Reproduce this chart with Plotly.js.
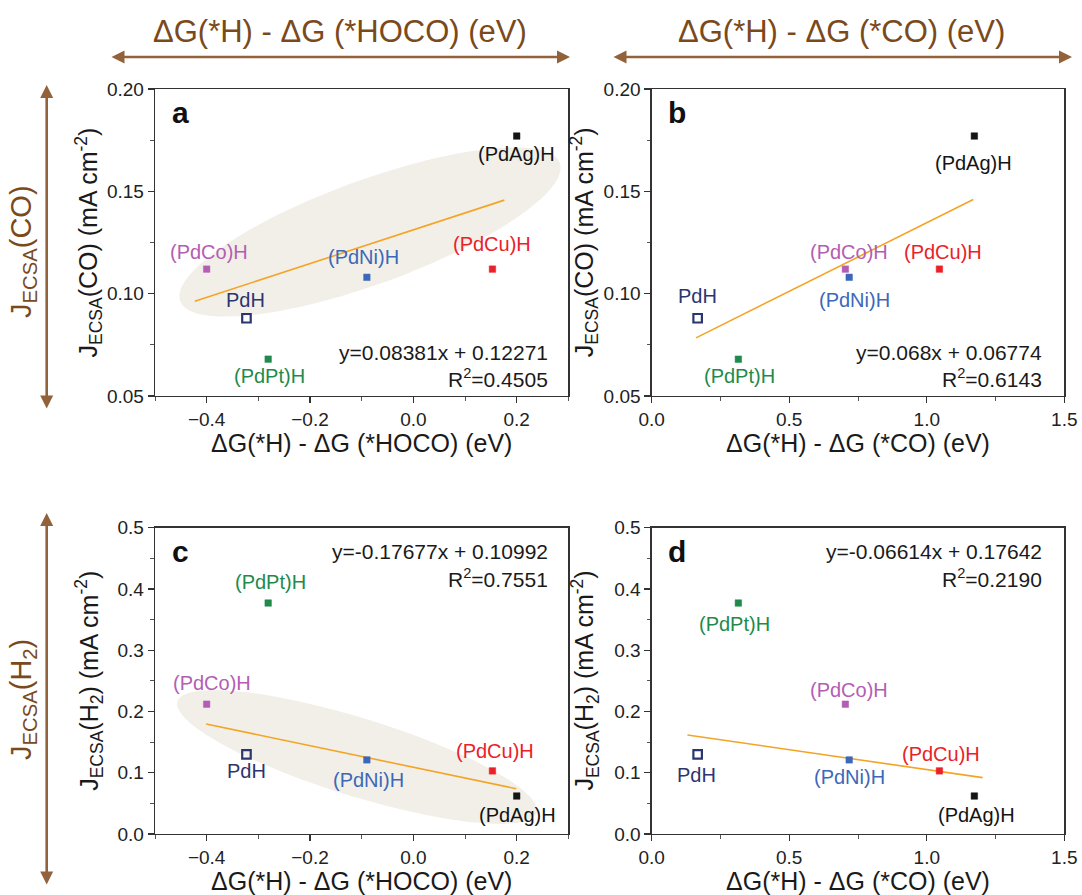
<!DOCTYPE html>
<html><head><meta charset="utf-8">
<script src="https://cdn.plot.ly/plotly-3.0.1.min.js"></script>
<style>html,body{margin:0;padding:0;background:#fff}#chart{width:1082px;height:895px}</style>
</head><body><div id="chart"></div>
<script>
// ---------------- data ----------------
const compounds = ['PdH', '(PdCo)H', '(PdPt)H', '(PdNi)H', '(PdCu)H', '(PdAg)H'];
const dG_HOCO = [-0.323, -0.400, -0.281, -0.090, 0.153, 0.200];   // ΔG(*H) - ΔG(*HOCO)
const dG_CO   = [0.167, 0.704, 0.315, 0.718, 1.046, 1.173];       // ΔG(*H) - ΔG(*CO)
const J_CO    = [0.088, 0.112, 0.068, 0.108, 0.112, 0.177];       // J_ECSA(CO)
const J_H2    = [0.130, 0.212, 0.377, 0.121, 0.103, 0.062];       // J_ECSA(H2)

const fitA_x = [-0.423, 0.176], fitA_y = [0.0963, 0.1457];
const fitB_x = [0.161, 1.169],  fitB_y = [0.0784, 0.1460];
const fitC_x = [-0.401, 0.199], fitC_y = [0.1795, 0.0740];
const fitD_x = [0.130, 1.203],  fitD_y = [0.1616, 0.0920];

const eqA = ['y=0.08381x + 0.12271', 'R<sup>2</sup>=0.4505'];
const eqB = ['y=0.068x + 0.06774', 'R<sup>2</sup>=0.6143'];
const eqC = ['y=-0.17677x + 0.10992', 'R<sup>2</sup>=0.7551'];
const eqD = ['y=-0.06614x + 0.17642', 'R<sup>2</sup>=0.2190'];

const titleHOCO = 'ΔG(*H) - ΔG (*HOCO) (eV)';
const titleCO = 'ΔG(*H) - ΔG (*CO) (eV)';
const titleJCO = 'J<sub>ECSA</sub>(CO) (mA cm<sup>-2</sup>)';
const titleJH2 = 'J<sub>ECSA</sub>(H<sub>2</sub>) (mA cm<sup>-2</sup>)';
const sideJCO = 'J<sub>ECSA</sub>(CO)';
const sideJH2 = 'J<sub>ECSA</sub>(H<sub>2</sub>)';

// ---------------- styles ----------------
const W = 1082, H = 895;
const FONT = '"Liberation Sans", Arial, Helvetica, sans-serif';
const BROWN_TXT = '#7a4a1c', BROWN_ARW = '#92623a';
const colors = {
  'PdH': '#2b3570', '(PdCo)H': '#b35eb4', '(PdPt)H': '#1f8a4c',
  '(PdNi)H': '#3c68b9', '(PdCu)H': '#ea2228', '(PdAg)H': '#141414'
};
// label offsets in pixels [dx, dy (down positive)]
const offsets = {
  a: {'PdH': [-1, -18], '(PdCo)H': [2, -17], '(PdPt)H': [1, 17], '(PdNi)H': [-3, -20], '(PdCu)H': [0, -25], '(PdAg)H': [0, 18]},
  b: {'PdH': [0, -22], '(PdCo)H': [4, -17], '(PdPt)H': [1, 17], '(PdNi)H': [5, 23], '(PdCu)H': [4, -17], '(PdAg)H': [-1, 27]},
  c: {'PdH': [0, 17], '(PdCo)H': [5, -21], '(PdPt)H': [2, -21], '(PdNi)H': [2, 20], '(PdCu)H': [3, -20], '(PdAg)H': [1, 19]},
  d: {'PdH': [-1, 21], '(PdCo)H': [4, -14], '(PdPt)H': [-4, 21], '(PdNi)H': [0, 17], '(PdCu)H': [2, -17], '(PdAg)H': [2, 19]}
};
// plot areas in pixels
const boxes = {
  a: {x0: 155, x1: 568.4, y0: 89, y1: 396},
  b: {x0: 651.7, x1: 1064.3, y0: 89, y1: 396},
  c: {x0: 155, x1: 568.4, y0: 527.7, y1: 834},
  d: {x0: 651.7, x1: 1064.3, y0: 527.7, y1: 834}
};
const px = x => x / W, py = y => 1 - y / H;

// ---------------- traces ----------------
const panels = [
  {k: 'a', xs: dG_HOCO, ys: J_CO, fx: fitA_x, fy: fitA_y, eq: eqA, xa: 'x', ya: 'y'},
  {k: 'b', xs: dG_CO, ys: J_CO, fx: fitB_x, fy: fitB_y, eq: eqB, xa: 'x2', ya: 'y2'},
  {k: 'c', xs: dG_HOCO, ys: J_H2, fx: fitC_x, fy: fitC_y, eq: eqC, xa: 'x3', ya: 'y3'},
  {k: 'd', xs: dG_CO, ys: J_H2, fx: fitD_x, fy: fitD_y, eq: eqD, xa: 'x4', ya: 'y4'}
];
const traces = [];
const annotations = [];
panels.forEach(p => {
  traces.push({
    x: p.fx, y: p.fy, xaxis: p.xa, yaxis: p.ya, mode: 'lines', type: 'scatter',
    line: {color: '#f4a425', width: 1.6}, hoverinfo: 'skip', showlegend: false
  });
  traces.push({
    x: p.xs, y: p.ys, xaxis: p.xa, yaxis: p.ya, mode: 'markers', type: 'scatter',
    text: compounds, showlegend: false,
    marker: {
      opacity: 1,
      symbol: compounds.map(c => c === 'PdH' ? 'square-open' : 'square'),
      size: compounds.map(c => c === 'PdH' ? 8.5 : 6.5),
      color: compounds.map(c => colors[c]),
      line: {width: compounds.map(c => c === 'PdH' ? 2.2 : 0.5), color: compounds.map(c => colors[c])}
    }
  });
  compounds.forEach((c, i) => {
    const o = offsets[p.k][c];
    annotations.push({
      x: p.xs[i], y: p.ys[i], xref: p.xa, yref: p.ya, text: c, showarrow: false,
      xshift: o[0], yshift: -o[1], font: {family: FONT, size: 20, color: colors[c]},
      xanchor: 'center', yanchor: 'middle'
    });
  });
  const b = boxes[p.k];
  const top = (p.k === 'a' || p.k === 'b');
  const left = (p.k === 'a' || p.k === 'c');
  // equations
  const eqY = top ? [352.7, 377.5] : [551.7, 577.7];
  const eqX = left ? 550.5 : 1043.5;
  p.eq.forEach((t, j) => annotations.push({
    x: px(eqX), y: py(eqY[j]), xref: 'paper', yref: 'paper', text: t, showarrow: false,
    xanchor: 'right', yanchor: 'middle', font: {family: FONT, size: 21, color: '#1a1a1a'}
  }));
  // panel letter
  annotations.push({
    x: px(b.x0 + 25.5), y: py(top ? 112.7 : 551), xref: 'paper', yref: 'paper',
    text: '<b>' + p.k + '</b>', showarrow: false, xanchor: 'center', yanchor: 'middle',
    font: {family: FONT, size: 30, color: '#111'}
  });
  // axis titles
  annotations.push({
    x: px((b.x0 + b.x1) / 2), y: py(b.y1 + 47), xref: 'paper', yref: 'paper',
    text: left ? titleHOCO : titleCO, showarrow: false,
    xanchor: 'center', yanchor: 'middle', font: {family: FONT, size: 25, color: '#1a1a1a'}
  });
  annotations.push({
    x: px(b.x0 - (left ? 66 : 67)), y: py((b.y0 + b.y1) / 2), xref: 'paper', yref: 'paper',
    text: top ? titleJCO : titleJH2, showarrow: false, textangle: -90,
    xanchor: 'center', yanchor: 'middle', font: {family: FONT, size: 25, color: '#1a1a1a'}
  });
});

// top brown headers and arrows
[[titleHOCO, 340, 110, 570], [titleCO, 841, 612, 1072]].forEach(([t, cx, xa, xb]) => {
  annotations.push({x: px(cx), y: py(31), xref: 'paper', yref: 'paper', text: t, showarrow: false,
    xanchor: 'center', yanchor: 'middle', font: {family: FONT, size: 31, color: BROWN_TXT}});
  annotations.push({x: px(xb), y: py(57), xref: 'paper', yref: 'paper', text: '', showarrow: true,
    ax: xa - xb, ay: 0, arrowside: 'end+start', arrowhead: 2, arrowsize: 1, arrowwidth: 2.6,
    arrowcolor: BROWN_ARW, standoff: 0, startstandoff: 0});
});
[[sideJCO, 252, 85, 410], [sideJH2, 700, 513, 886]].forEach(([t, cy, ya, yb]) => {
  annotations.push({x: px(23), y: py(cy), xref: 'paper', yref: 'paper', text: t, showarrow: false,
    textangle: -90, xanchor: 'center', yanchor: 'middle', font: {family: FONT, size: 29, color: BROWN_TXT}});
  annotations.push({x: px(46.7), y: py(ya), xref: 'paper', yref: 'paper', text: '', showarrow: true,
    ax: 0, ay: yb - ya, arrowside: 'end+start', arrowhead: 2, arrowsize: 1, arrowwidth: 2.6,
    arrowcolor: BROWN_ARW, standoff: 0, startstandoff: 0});
});

// highlight ellipses (decoration) in paper coordinates
function ellipsePath(cx, cy, a, b, angDeg) {
  const t = angDeg * Math.PI / 180, n = 90;
  let d = '';
  for (let i = 0; i <= n; i++) {
    const s = 2 * Math.PI * i / n;
    const ex = a * Math.cos(s), ey = b * Math.sin(s);
    const X = cx + ex * Math.cos(t) - ey * Math.sin(t);
    const Y = cy + ex * Math.sin(t) + ey * Math.cos(t);
    d += (i === 0 ? 'M' : 'L') + px(X).toFixed(5) + ',' + py(Y).toFixed(5);
  }
  return d + 'Z';
}
const shapes = [
  {type: 'path', xref: 'paper', yref: 'paper', path: ellipsePath(370, 232, 202, 52, -20), fillcolor: '#f2efe8', line: {width: 0}, layer: 'below'},
  {type: 'path', xref: 'paper', yref: 'paper', path: ellipsePath(357, 757, 188, 39, 17.2), fillcolor: '#f2efe8', line: {width: 0}, layer: 'below'}
];

// ---------------- axes ----------------
function ax(k, isX, range, dtick, minor, fmt, anchor) {
  const b = boxes[k];
  return {domain: isX ? [px(b.x0), px(b.x1)] : [py(b.y1), py(b.y0)], range: range, anchor: anchor,
    showgrid: false, zeroline: false, showline: true, mirror: true, linecolor: '#333', linewidth: 1.3,
    ticks: 'outside', ticklen: 6, tickwidth: 1.2, tickcolor: '#333', tickmode: 'linear', tick0: 0, dtick: dtick,
    tickformat: fmt, tickfont: {family: FONT, size: 19, color: '#222'},
    minor: {dtick: minor, tick0: 0, ticks: 'outside', ticklen: 3.5, tickwidth: 1, tickcolor: '#555', showgrid: false},
    fixedrange: true};
}

const layout = {
  width: W, height: H, margin: {l: 0, r: 0, t: 0, b: 0},
  paper_bgcolor: '#ffffff', plot_bgcolor: 'rgba(0,0,0,0)',
  font: {family: FONT, color: '#222'}, showlegend: false, hovermode: false,
  xaxis: ax('a', true, [-0.5, 0.3], 0.2, 0.1, '.1f', 'y'),
  yaxis: ax('a', false, [0.05, 0.20], 0.05, 0.025, '.2f', 'x'),
  xaxis2: ax('b', true, [0, 1.5], 0.5, 0.25, '.1f', 'y2'),
  yaxis2: ax('b', false, [0.05, 0.20], 0.05, 0.025, '.2f', 'x2'),
  xaxis3: ax('c', true, [-0.5, 0.3], 0.2, 0.1, '.1f', 'y3'),
  yaxis3: ax('c', false, [0, 0.5], 0.1, 0.05, '.1f', 'x3'),
  xaxis4: ax('d', true, [0, 1.5], 0.5, 0.25, '.1f', 'y4'),
  yaxis4: ax('d', false, [0, 0.5], 0.1, 0.05, '.1f', 'x4'),
  annotations: annotations, shapes: shapes
};
Plotly.newPlot('chart', traces, layout, {staticPlot: true, displayModeBar: false});
</script></body></html>
